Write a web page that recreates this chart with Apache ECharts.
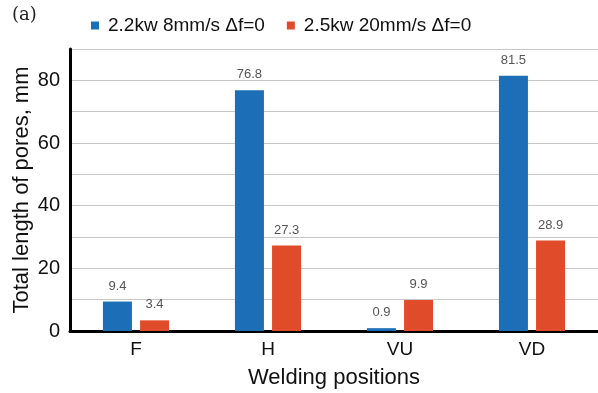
<!DOCTYPE html>
<html><head><meta charset="utf-8">
<script src="https://cdn.jsdelivr.net/npm/echarts@6/dist/echarts.min.js"></script>
<style>html,body{margin:0;padding:0;background:#fff}#c{width:598px;height:393px}</style>
</head><body><div id="c"></div>
<script>
const categories = ['F', 'H', 'VU', 'VD'];
const seriesNames = ['2.2kw 8mm/s \u0394f=0', '2.5kw 20mm/s \u0394f=0'];
const series1 = [9.4, 76.8, 0.9, 81.5];
const series2 = [3.4, 27.3, 9.9, 28.9];
const yTicks = [0, 20, 40, 60, 80];

const FF = 'Arial, "Liberation Sans", sans-serif';
const chart = echarts.init(document.getElementById('c'), null, {renderer: 'canvas'});
const labelStyle = {show: true, position: 'top', distance: 9, color: '#555', fontSize: 13, fontFamily: FF};
chart.setOption({
  animation: false,
  graphic: [{type: 'text', left: 12, top: 6, style: {text: '(a)', font: '18px "DejaVu Serif", "Liberation Serif", serif', fill: '#222'}}],
  legend: {
    top: 11, left: 86, itemWidth: 8, itemHeight: 8, itemGap: 22,
    icon: 'rect',
    textStyle: {fontSize: 19, color: '#111', fontFamily: FF, padding: [0, 0, 0, 4]},
    data: seriesNames
  },
  grid: {left: 70, right: 0, top: 49, bottom: 62, outerBoundsMode: 'none', containLabel: false},
  xAxis: {
    type: 'category', data: categories,
    name: 'Welding positions', nameLocation: 'middle', nameGap: 36,
    nameTextStyle: {fontSize: 22, color: '#111', fontFamily: FF},
    axisLine: {lineStyle: {color: '#000', width: 3}},
    axisTick: {show: false},
    axisLabel: {fontSize: 19, color: '#111', margin: 9, fontFamily: FF}
  },
  yAxis: {
    type: 'value', min: 0, max: 90, interval: 10,
    name: 'Total length of pores, mm', nameLocation: 'middle', nameGap: 37, nameMoveOverlap: false,
    nameTextStyle: {fontSize: 22, color: '#111', fontFamily: FF},
    axisLine: {show: true, lineStyle: {color: '#000', width: 3}},
    axisTick: {show: false},
    splitLine: {lineStyle: {color: '#c8c8c8', width: 1}},
    axisLabel: {fontSize: 20, color: '#111', margin: 10, fontFamily: FF,
      formatter: v => yTicks.includes(v) ? String(v) : ''}
  },
  series: [
    {name: seriesNames[0], type: 'bar', data: series1, barWidth: 29, barGap: '28%', itemStyle: {color: '#1c6fb6'}, label: labelStyle},
    {name: seriesNames[1], type: 'bar', data: series2, barWidth: 29, itemStyle: {color: '#e04b2a'}, label: labelStyle}
  ]
});
</script></body></html>
